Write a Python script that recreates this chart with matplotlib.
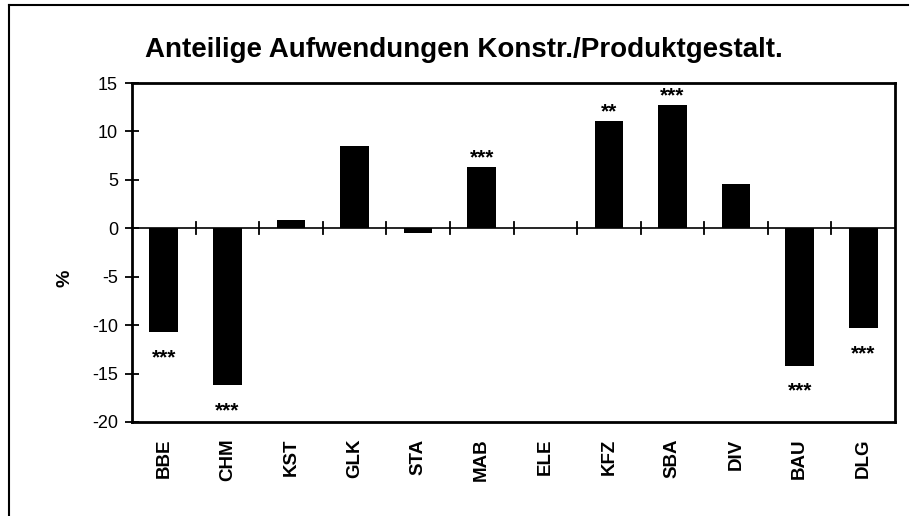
import numpy as np
import matplotlib
matplotlib.use("Agg")
import matplotlib.pyplot as plt
from matplotlib.lines import Line2D

branchen = ["BBE", "CHM", "KST", "GLK", "STA", "MAB", "ELE", "KFZ", "SBA", "DIV", "BAU", "DLG"]
werte = [-10.7, -16.2, 0.9, 8.5, -0.5, 6.3, 0.0, 11.1, 12.7, 4.6, -14.2, -10.3]
sterne = ["***", "***", "", "", "", "***", "", "**", "***", "", "***", "***"]
y_ticks = [15, 10, 5, 0, -5, -10, -15, -20]

plt.rcParams["font.family"] = ["Liberation Sans", "DejaVu Sans"]
plt.rcParams["font.weight"] = "bold"

fig = plt.figure(figsize=(9.13, 5.16), dpi=100)
ax = fig.add_axes([132 / 913, 1 - 422 / 516, (895 - 132) / 913, (422 - 83) / 516])

x = np.arange(len(branchen))
ax.bar(x, werte, width=0.45, color="black", zorder=3)
ax.axhline(0, color="black", lw=1.2, zorder=2)

# Sterne ueber/unter den Balken (Grundlinie, Sternchen sitzt hoch)
for xi, w, s in zip(x, werte, sterne):
    if not s:
        continue
    if w >= 0:
        ax.text(xi, w + 0.4, s, ha="center", va="baseline", fontsize=15, fontweight="bold")
    else:
        ax.text(xi, w - 3.2, s, ha="center", va="baseline", fontsize=15, fontweight="bold")

# Trennstriche auf der Nulllinie zwischen den Gruppen
for b in x[:-1] + 0.5:
    ax.plot([b, b], [-0.6, 0.6], color="black", lw=1.3, zorder=2)

ax.set_xlim(-0.5, len(branchen) - 0.5)
ax.set_ylim(-20, 15)
ax.set_yticks(y_ticks)
ax.set_yticklabels([str(t) for t in y_ticks], fontsize=13, fontweight="normal")
ax.tick_params(axis="y", direction="inout", length=10, width=1.3, pad=5)
ax.set_xticks(x)
ax.set_xticklabels(branchen, rotation=90, fontsize=13.5, fontweight="bold")
ax.tick_params(axis="x", length=0, pad=12)
for sp in ax.spines.values():
    sp.set_linewidth(2)

ax.set_ylabel("%", fontsize=14, fontweight="bold")
ax.yaxis.set_label_coords(-0.077, 0.425)
fig.text(464 / 913, 1 - 50 / 516, "Anteilige Aufwendungen Konstr./Produktgestalt.",
         ha="center", va="center", fontsize=20, fontweight="bold")

# Rahmen um die Grafik
fig.add_artist(Line2D([9 / 913, 9 / 913], [0, 1 - 5 / 516], color="black", lw=1.5, transform=fig.transFigure))
fig.add_artist(Line2D([9 / 913, 908 / 913], [1 - 5 / 516, 1 - 5 / 516], color="black", lw=1.5, transform=fig.transFigure))

fig.savefig("out.png", dpi=100)
